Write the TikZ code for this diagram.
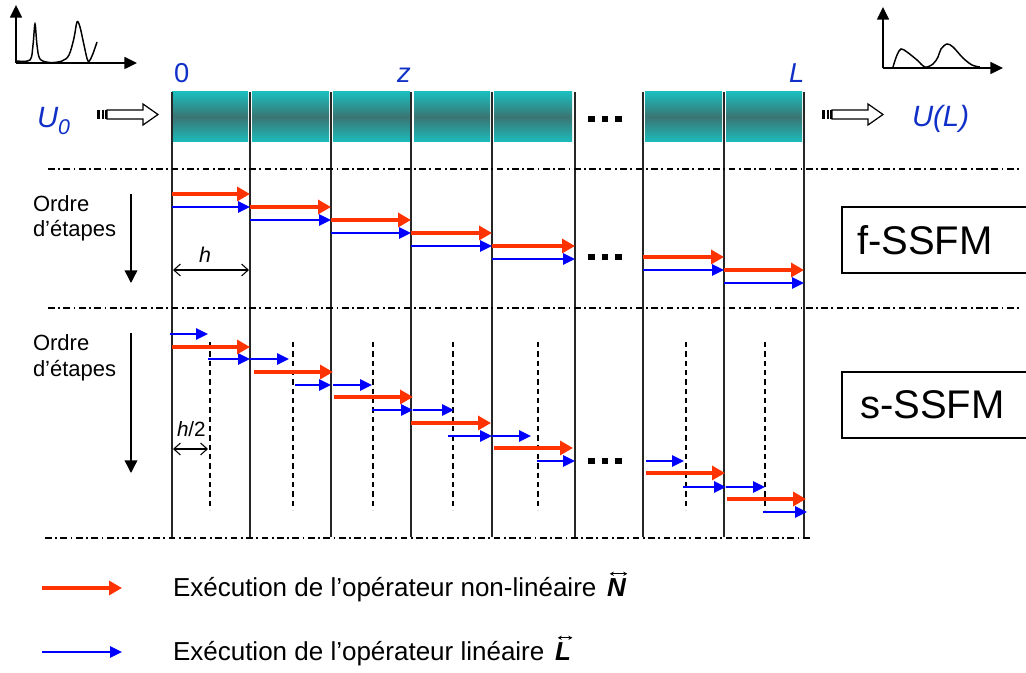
\documentclass[tikz,border=0pt]{standalone}
\usepackage{fontspec}
\setmainfont{Liberation Sans}
\usetikzlibrary{arrows.meta}
\definecolor{redA}{RGB}{255,51,0}
\definecolor{blueA}{RGB}{0,0,255}
\definecolor{lblue}{RGB}{16,48,200}
\definecolor{tealA}{RGB}{27,189,189}
\definecolor{tealD}{RGB}{58,117,115}
\begin{document}
\begin{tikzpicture}[x=0.75pt,y=-0.75pt,
  every node/.style={inner sep=0pt, outer sep=0pt},
  redarr/.style={draw=redA, line width=3.6pt, -{Triangle[length=9.75pt,width=10.5pt]}},
  bluearr/.style={draw=blueA, line width=1.4pt, -{Triangle[length=9pt,width=8.5pt]}},
  gridline/.style={line width=1.2pt, black!85},
  dashdot/.style={line width=0.9pt, dash pattern=on 5pt off 2.6pt on 1.4pt off 2.6pt},
  midline/.style={line width=1pt, dash pattern=on 4pt off 3pt},
  axisarr/.style={line width=1.1pt, -{Triangle[length=9.5pt,width=9pt]}},
  downarr/.style={line width=1.1pt, -{Triangle[length=9.5pt,width=9.5pt]}},
  pulse/.style={line width=1.1pt},
  dimarr/.style={line width=0.8pt, {Straight Barb[length=5pt,width=9pt]}-{Straight Barb[length=5pt,width=9pt]}},
  oparr/.style={line width=0.7pt, {Stealth[length=3pt,width=3.2pt]}-{Stealth[length=3pt,width=3.2pt]}},
  bluelab/.style={text=lblue, font=\fontsize{20.5}{24}\selectfont},
  ulab/.style={text=lblue, font=\fontsize{22}{26}\selectfont\itshape},
  ordrelab/.style={font=\fontsize{16.5}{19}\selectfont},
  methodlab/.style={font=\fontsize{30}{34}\selectfont},
  legendlab/.style={font=\fontsize{19.5}{23}\selectfont},
  opsym/.style={font=\fontsize{19.5}{23}\selectfont\bfseries\itshape},
  hollowarrow/.pic={
    \fill (0,-4.5) rectangle (3,4.5);
    \fill (4.5,-4.5) rectangle (6.5,4.5);
    \fill (8,-4.5) rectangle (9.5,4.5);
    \draw[line width=0.9pt, fill=white] (10,-4.5) -- (46,-4.5) -- (46,-10.5) -- (61,0) -- (46,10.5) -- (46,4.5) -- (10,4.5) -- cycle;
  },
  dotsq/.pic={
    \fill (0,-3) rectangle (6.5,3);
    \fill (13.5,-3) rectangle (20,3);
    \fill (27,-3) rectangle (33.5,3);
  }
]
\useasboundingbox (0,0) rectangle (1026,673);
\fill[white] (0,0) rectangle (1026,673);

% input pulse
\draw[axisarr] (16,63) -- (16,5);
\draw[axisarr] (16,63) -- (137,63);
\draw[pulse] plot[smooth, tension=0.55] coordinates {(17,61) (30,60) (33,45) (35,24) (37,45) (40,59) (50,62.5) (62,61) (69,55) (74,38) (77,22) (80,27) (84,45) (88,61) (92,56) (97,42)};

% output pulse
\draw[axisarr] (883,68) -- (883,7);
\draw[axisarr] (883,68) -- (1003,68);
\draw[pulse] plot[smooth, tension=0.55] coordinates {(893,67) (897,55) (901,49) (907,52) (917,60) (925,67) (933,64) (938,57) (941,49) (947,44) (953,47) (963,58) (972,65) (980,67)};

% fibre band
\foreach \a/\b in {172/248,252/329,333/410,414/490,494/572,645/722,726/802}
  \shade[top color=tealA, bottom color=tealA, middle color=tealD] (\a,92) rectangle (\b,142);

% position labels
\node[bluelab, anchor=base west] (lab0) at (174,83) {0};
\node[bluelab, anchor=base west] (labz) at (397,83) {\itshape z};
\node[bluelab, anchor=base west] (labL) at (789,83) {\itshape L};
\node[ulab, anchor=base west] (u0) at (37,128) {U\raisebox{-0.22em}{\fontsize{16}{18}\selectfont 0}};
\node[ulab, anchor=base west] (uL) at (912,127) {U(L)};

% hollow arrows
\pic at (97,114.5) {hollowarrow};
\pic at (822,114.5) {hollowarrow};

% grid lines
\foreach \x in {172,250,331,411,492,575,643,724,804}
  \draw[gridline] (\x,92) -- (\x,537);

% dash-dot separators
\draw[dashdot] (48,169) -- (1022,169);
\draw[dashdot] (48,308) -- (1022,308);
\draw[dashdot] (45,538) -- (810,538);

% half-step lines
\foreach \x in {210,293,373,453,538,686,765}
  \draw[midline] (\x,342) -- (\x,510);

% dots
\pic at (588,119) {dotsq};
\pic at (588,257) {dotsq};
\pic at (588,461) {dotsq};

% f-SSFM arrows
\foreach \a/\b/\y in {172/250/194, 250/331/207, 331/411/220, 411/492/233, 492/575/246, 643/724/257, 724/804/270} {
  \draw[bluearr] (\a,\y+13) -- (\b,\y+13);
  \draw[redarr] (\a,\y) -- (\b,\y);
}

% s-SSFM arrows
\foreach \a/\b/\y in {170/208/334, 208/250/359, 250/289/359, 295/331/385, 333/372/385, 372/413/410, 413/454/410, 448/492/436, 492/531/436, 537/575/461, 646/684/461, 683/726/487, 726/765/487, 763/807/512}
  \draw[bluearr] (\a,\y) -- (\b,\y);
\foreach \a/\b/\y in {172/250/347, 254/333/372, 334/413/397, 411/491/423, 494/573/448, 646/725/473, 727/806/499}
  \draw[redarr] (\a,\y) -- (\b,\y);

% Ordre d'etapes
\node[ordrelab, anchor=base west] (o1a) at (33,212) {Ordre};
\node[ordrelab, anchor=base west] (o1b) at (33,237) {d’étapes};
\draw[downarr] (131,194) -- (131,283);
\node[ordrelab, anchor=base west] (o2a) at (33,351) {Ordre};
\node[ordrelab, anchor=base west] (o2b) at (33,377) {d’étapes};
\draw[downarr] (131,333) -- (131,473);

% step sizes
\draw[dimarr] (173,270) -- (249,270);
\node[font=\fontsize{16}{18}\selectfont\itshape, anchor=base west] (hlab) at (199,263) {h};
\draw[dimarr] (173,449) -- (208,449);
\node[font=\fontsize{15.5}{18}\selectfont, anchor=base west] (h2lab) at (177,437) {\itshape h\upshape/2};

% method boxes
\draw[line width=1.1pt] (1026,207) -- (842,207) -- (842,273) -- (1026,273);
\node[methodlab, anchor=west] (fssfm) at (857,240) {f-SSFM};
\draw[line width=1.1pt] (1026,372) -- (842,372) -- (842,438) -- (1026,438);
\node[methodlab, anchor=west] (sssfm) at (860,405) {s-SSFM};

% legend
\coordinate (lr1) at (42,588);
\coordinate (lr2) at (122,588);
\draw[redarr] (lr1) -- (lr2);
\coordinate (lb1) at (42,652);
\coordinate (lb2) at (122,652);
\draw[bluearr] (lb1) -- (lb2);
\node[legendlab, anchor=base west] (legN) at (173,597) {Exécution de l’opérateur non-linéaire};
\node[opsym, anchor=base west] (symN) at ([xshift=8pt]legN.base east) {N};
\draw[oparr] ([xshift=2pt,yshift=4pt]symN.north west) -- ([xshift=1pt,yshift=4pt]symN.north east);
\node[legendlab, anchor=base west] (legL) at (173,661) {Exécution de l’opérateur linéaire};
\node[opsym, anchor=base west] (symL) at ([xshift=8pt]legL.base east) {L};
\draw[oparr] ([xshift=2pt,yshift=4pt]symL.north west) -- ([xshift=1pt,yshift=4pt]symL.north east);
\end{tikzpicture}
\end{document}
